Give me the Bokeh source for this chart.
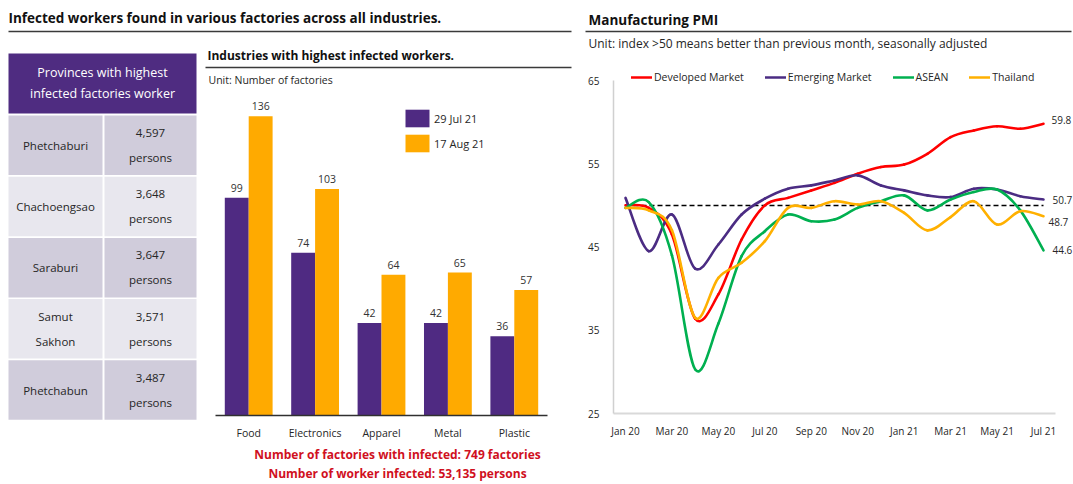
import numpy as np
from bokeh.plotting import figure
from bokeh.models import Range1d, Label, Legend, LegendItem, FixedTicker, ColumnDataSource
from bokeh.layouts import row, column
from bokeh.embed import file_html
from bokeh.resources import INLINE
from bokeh.core.properties import value

FONT = "Open Sans"
TXT = "#262626"

# ---------------- data ----------------
provinces = ["Phetchaburi", "Chachoengsao", "Saraburi", "Samut\nSakhon", "Phetchabun"]
persons = [4597, 3648, 3647, 3571, 3487]

industries = ["Food", "Electronics", "Apparel", "Metal", "Plastic"]
jul29 = [99, 74, 42, 42, 36]
aug17 = [136, 103, 64, 65, 57]
series_dates = ["29 Jul 21", "17 Aug 21"]
total_factories = 749
total_workers = 53135

months = ["Jan 20", "Feb 20", "Mar 20", "Apr 20", "May 20", "Jun 20", "Jul 20", "Aug 20",
          "Sep 20", "Oct 20", "Nov 20", "Dec 20", "Jan 21", "Feb 21", "Mar 21", "Apr 21",
          "May 21", "Jun 21", "Jul 21"]
developed = [50.0, 49.7, 46.5, 36.4, 39.3, 45.9, 50.0, 50.9, 51.8, 52.7, 53.8, 54.6, 54.9,
             56.2, 58.2, 59.0, 59.5, 59.2, 59.8]
emerging = [50.9, 44.5, 48.9, 42.4, 45.3, 48.9, 50.8, 52.0, 52.4, 53.0, 53.6, 52.4, 51.8,
            51.2, 51.0, 52.0, 51.9, 51.1, 50.7]
asean = [49.7, 50.4, 44.0, 30.3, 35.8, 43.9, 46.9, 48.9, 48.1, 48.3, 49.7, 50.5, 51.2,
         49.4, 50.7, 51.6, 51.9, 49.4, 44.6]
thailand = [49.7, 49.4, 47.0, 36.5, 41.3, 43.1, 45.7, 49.7, 49.7, 50.5, 50.1, 50.5, 49.1,
            47.0, 48.6, 50.5, 47.7, 49.3, 48.7]
threshold = 50
y_ticks = [25, 35, 45, 55, 65]

PURPLE = "#4F2A82"
ORANGE = "#FFAA00"
RED_TXT = "#D0101E"

TOTAL_W, TOTAL_H = 1073, 484
HDR_H = 36
LOW_H = TOTAL_H - HDR_H


def bare(p):
    p.grid.visible = False
    p.outline_line_color = None
    p.background_fill_color = "white"
    p.border_fill_color = "white"
    return p


def plain_fig(w, h, xr, yr):
    return bare(figure(width=w, height=h, x_range=xr, y_range=yr, output_backend="svg",
                       toolbar_location=None, min_border=0, x_axis_location=None,
                       y_axis_location=None, title=None))


# ---------------- header ----------------
hdr = plain_fig(TOTAL_W, HDR_H, Range1d(0, TOTAL_W), Range1d(HDR_H, 0))
hdr.add_layout(Label(x=8, y=17, text="Infected workers found in various factories across all industries.",
                     text_font=FONT, text_font_size="13.5px", text_font_style="bold",
                     text_color="#111111", text_baseline="middle"))
hdr.add_layout(Label(x=588, y=19, text="Manufacturing PMI", text_font=FONT, text_font_size="13.5px",
                     text_font_style="bold", text_color="#111111", text_baseline="middle"))
hdr.segment(x0=[8, 585], y0=[31, 31], x1=[571, 1071], y1=[31, 31], line_color="#3a3a3a", line_width=1.3)

# ---------------- table ----------------
TW = 200
tbl = plain_fig(TW, LOW_H, Range1d(0, TW), Range1d(TOTAL_H, HDR_H))   # y in page pixels, downward
tbl.quad(left=[8], right=[196], top=[53], bottom=[113], fill_color="#4F2C81", line_color=None)
tbl.text(x=[102, 102], y=[72, 93], text=["Provinces with highest", "infected factories worker"],
         text_font=value(FONT), text_font_size="12.5px", text_color="white",
         text_align="center", text_baseline="middle")
ROW0, PITCH, RH, LS = 115, 61.2, 59.5, 24.5
n = len(provinces)
tops = [ROW0 + i * PITCH for i in range(n)]
cols = ["#D0CCDB" if i % 2 == 0 else "#E8E7EE" for i in range(n)]
tbl.quad(left=[8] * n, right=[102] * n, top=tops, bottom=[t + RH for t in tops], fill_color=cols, line_color=None)
tbl.quad(left=[104] * n, right=[196] * n, top=tops, bottom=[t + RH for t in tops], fill_color=cols, line_color=None)
tx, ty, tt = [], [], []
for i, (prov, num) in enumerate(zip(provinces, persons)):
    c = tops[i] + RH / 2
    lines = prov.split("\n")
    for k, ln in enumerate(lines):
        tx.append(55); ty.append(c + (k - (len(lines) - 1) / 2) * LS); tt.append(ln)
    for k, ln in enumerate([f"{num:,}", "persons"]):
        tx.append(150); ty.append(c + (k - 0.5) * LS); tt.append(ln)
tbl.text(x=tx, y=ty, text=tt, text_font=value(FONT), text_font_size="11.5px", text_color=TXT,
         text_align="center", text_baseline="middle")

# ---------------- bar chart ----------------
BX0, BW = 200, 380
PXX, PXY = 66.4, 2.2           # px per category, px per factory
x_lo = (BX0 - 215) / PXX
x_hi = x_lo + BW / PXX
y_hi = (415 - HDR_H) / PXY
y_lo = y_hi - LOW_H / PXY
bar = plain_fig(BW, LOW_H, Range1d(x_lo, x_hi), Range1d(y_lo, y_hi))


def bx(sx):
    return x_lo + (sx - BX0) / PXX


def by(sy):
    return y_hi - (sy - HDR_H) / PXY


centers = [i + 0.5 for i in range(len(industries))]
off, bwid = 0.18, 0.36
src = ColumnDataSource(dict(xa=[c - off for c in centers], xb=[c + off for c in centers],
                            a=jul29, b=aug17, la=[str(v) for v in jul29], lb=[str(v) for v in aug17]))
ra = bar.vbar(x="xa", top="a", width=bwid, bottom=0, source=src, fill_color=PURPLE, line_color=None)
rb = bar.vbar(x="xb", top="b", width=bwid, bottom=0, source=src, fill_color=ORANGE, line_color=None)
for xc, yc, lc in (("xa", "a", "la"), ("xb", "b", "lb")):
    bar.text(x=xc, y=yc, text=lc, source=src, y_offset=-6, text_font=value(FONT), text_font_size="10.5px",
             text_color="#333333", text_align="center", text_baseline="bottom")
bar.segment(x0=[0], y0=[0], x1=[len(industries)], y1=[0], line_color="#303030", line_width=1.5)
bar.text(x=centers, y=[0] * len(centers), text=industries, y_offset=10, text_font=value(FONT),
         text_font_size="10.5px", text_color=TXT, text_align="center", text_baseline="top")
bar.segment(x0=[bx(205)], y0=[by(67)], x1=[bx(571)], y1=[by(67)], line_color="#3a3a3a", line_width=1.3)


def slabel(fig, fx0, sx, sy, text, **kw):
    fig.add_layout(Label(x=sx - fx0, y=TOTAL_H - sy, x_units="screen", y_units="screen", text=text,
                         text_font=FONT, text_baseline="middle", **kw))


slabel(bar, BX0, 207, 55, "Industries with highest infected workers.", text_font_size="12px",
       text_font_style="bold", text_color="#111111")
slabel(bar, BX0, 208, 79, "Unit: Number of factories", text_font_size="10.5px", text_color=TXT)
slabel(bar, BX0, 397, 454, f"Number of factories with infected: {total_factories} factories",
       text_font_size="12px", text_font_style="bold", text_color=RED_TXT, text_align="center")
slabel(bar, BX0, 397, 473, f"Number of worker infected: {total_workers:,} persons",
       text_font_size="12px", text_font_style="bold", text_color=RED_TXT, text_align="center")
bleg = Legend(items=[LegendItem(label=series_dates[0], renderers=[ra]),
                     LegendItem(label=series_dates[1], renderers=[rb])],
              location=(402 - BX0, TOTAL_H - 154), glyph_width=30, glyph_height=22, spacing=3,
              label_standoff=2, padding=0, margin=0, border_line_color=None,
              background_fill_alpha=0, label_text_font=FONT, label_text_font_size="11px",
              label_text_color=TXT, label_height=22)
bar.add_layout(bleg)

# ---------------- line chart ----------------
LX0 = BX0 + BW
LW = TOTAL_W - LX0
xs = list(range(len(months)))
PPM = (1043 - 625) / (len(months) - 1)     # px per month
PPV = (413 - 80) / (y_ticks[-1] - y_ticks[0])  # px per index point
lx_lo = (LX0 - 625) / PPM
lx_hi = (TOTAL_W - 625) / PPM
ly_hi = y_ticks[-1] + (80 - HDR_H) / PPV
ly_lo = y_ticks[0] - (TOTAL_H - 413) / PPV
lp = bare(figure(width=LW, height=LOW_H, x_range=Range1d(lx_lo, lx_hi), y_range=Range1d(ly_lo, ly_hi),
                 output_backend="svg", toolbar_location=None, min_border=0, title=None))
lp.xaxis.fixed_location = y_ticks[0]
lp.yaxis.fixed_location = -0.52
lp.xaxis.bounds = (-0.52, len(months) - 0.5)
lp.yaxis.bounds = (y_ticks[0], y_ticks[-1])
lp.xaxis.ticker = FixedTicker(ticks=xs[::2])
lp.xaxis.major_label_overrides = {i: months[i] for i in xs[::2]}
lp.yaxis.ticker = FixedTicker(ticks=y_ticks)
for ax in (lp.xaxis, lp.yaxis):
    ax.major_tick_line_color = None
    ax.minor_tick_line_color = None
    ax.major_label_text_font = FONT
    ax.major_label_text_font_size = "10px"
    ax.major_label_text_color = TXT
lp.xaxis.axis_line_color = "#D9D9D9"
lp.xaxis.axis_line_width = 2
lp.xaxis.major_label_standoff = 4
lp.yaxis.axis_line_color = "#D0D0D0"
lp.yaxis.axis_line_width = 1.5
lp.yaxis.major_label_standoff = 8

slabel(lp, LX0, 588, 43, "Unit: index >50 means better than previous month, seasonally adjusted",
       text_font_size="12px", text_color=TXT)


def bezier_source(x, y):
    xp = [x[0]] + list(x) + [x[-1]]
    yp = [y[0]] + list(y) + [y[-1]]
    d = dict(x0=[], y0=[], x1=[], y1=[], cx0=[], cy0=[], cx1=[], cy1=[])
    for i in range(len(x) - 1):
        d["x0"].append(x[i]); d["y0"].append(y[i])
        d["x1"].append(x[i + 1]); d["y1"].append(y[i + 1])
        d["cx0"].append(x[i] + (xp[i + 2] - xp[i]) / 6)
        d["cy0"].append(y[i] + (yp[i + 2] - yp[i]) / 6)
        d["cx1"].append(x[i + 1] - (xp[i + 3] - xp[i + 1]) / 6)
        d["cy1"].append(y[i + 1] - (yp[i + 3] - yp[i + 1]) / 6)
    return ColumnDataSource(d)


lp.line(x=[xs[0], xs[-1]], y=[threshold, threshold], line_color="black", line_width=1.5, line_dash="5 3")
series = [("Developed Market", developed, "#FF0000", (8, 4)),
          ("Emerging Market", emerging, "#4B2C83", (9, 0)),
          ("ASEAN", asean, "#00B050", (9, 0)),
          ("Thailand", thailand, "#FFB000", (5, -6))]
items = []
for name, vals, colr, (xo, yo) in series:
    r = lp.bezier(x0="x0", y0="y0", x1="x1", y1="y1", cx0="cx0", cy0="cy0", cx1="cx1", cy1="cy1",
                  source=bezier_source(xs, vals), line_color=colr, line_width=2.6, line_cap="round")
    items.append(LegendItem(label=name, renderers=[r]))
    lp.add_layout(Label(x=xs[-1], y=vals[-1], text=f"{vals[-1]:.1f}", x_offset=xo, y_offset=yo,
                        text_font=FONT, text_font_size="10px", text_color=TXT, text_baseline="middle"))
lleg = Legend(items=items, orientation="horizontal", location=(631 - LX0, TOTAL_H - 84),
              glyph_width=21, glyph_height=14, label_standoff=2, spacing=21, padding=0, margin=0,
              border_line_color=None, background_fill_alpha=0, label_text_font=FONT,
              label_text_font_size="10.5px", label_text_color=TXT, label_height=14)
lp.add_layout(lleg)

layout = column(hdr, row(tbl, bar, lp))
open("out.html", "w").write(file_html(layout, INLINE))
